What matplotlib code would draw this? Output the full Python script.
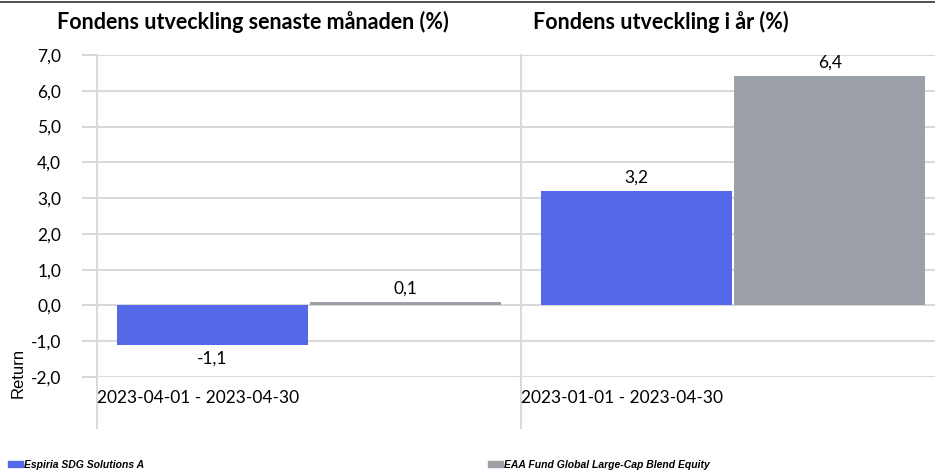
import numpy as np
import matplotlib.pyplot as plt
from matplotlib.transforms import blended_transform_factory

# Data
periods = ["2023-04-01 - 2023-04-30", "2023-01-01 - 2023-04-30"]
titles = ["Fondens utveckling senaste månaden (%)", "Fondens utveckling i år (%)"]
series = ["Espiria SDG Solutions A", "EAA Fund Global Large-Cap Blend Equity"]
fund = [-1.1, 3.2]
index = [0.1, 6.4]
yticks = [-2, -1, 0, 1, 2, 3, 4, 5, 6, 7]

BLUE = "#5469E8"
GRAY = "#9CA0A8"
GRID = "#D9D9D9"
FONT = ["Lato", "DejaVu Sans"]


def fmt(v):
    return f"{v:.1f}".replace(".", ",")


fig = plt.figure(figsize=(9.35, 4.72), dpi=100)
W, H = 935, 472
ax = fig.add_axes([97 / W, (H - 377) / H, (935 - 97) / W, 322 / H])

x = np.arange(len(periods))
w = 0.45
off = 0.228
b1 = ax.bar(x - off, fund, w, color=BLUE, zorder=3)
b2 = ax.bar(x + off, index, w, color=GRAY, zorder=3)

ax.set_xlim(-0.5, -0.5 + 838 / 424)
ax.set_ylim(-2, 7)
ax.set_yticks(yticks)
ax.set_yticklabels([fmt(v) for v in yticks], fontsize=12.5, family=FONT)
ax.tick_params(axis="y", length=10.8, width=1.5, color=GRID, pad=15)
ax.set_xticks([])
ax.yaxis.grid(True, color=GRID, linewidth=1.5, zorder=0)
for s in ax.spines.values():
    s.set_visible(False)

# category separators extending below the plot
for xb in [-0.5, 0.5]:
    ax.axvline(xb, ymin=-51 / 322, ymax=1, color=GRID, linewidth=1.5,
               clip_on=False, zorder=1)

# value labels
for bars, vals in [(b1, fund), (b2, index)]:
    for r, v in zip(bars, vals):
        cx = r.get_x() + r.get_width() / 2
        if v < 0:
            ax.annotate(fmt(v), (cx, v), xytext=(0, -4), textcoords="offset points",
                        ha="center", va="top", fontsize=12.5, family=FONT)
        else:
            ax.annotate(fmt(v), (cx, v), xytext=(0, 4), textcoords="offset points",
                        ha="center", va="bottom", fontsize=12.5, family=FONT)

# category labels
tr = blended_transform_factory(ax.transData, ax.transAxes)
for i, p in enumerate(periods):
    ax.text(i - 0.5, -0.065, p, transform=tr, ha="left", va="center",
            fontsize=12.5, family=FONT)

# y label
fig.text(18 / W, 1 - 398 / H, "Return", rotation=90, fontsize=12,
         family=["Liberation Sans", "DejaVu Sans"], ha="center", va="bottom")

# titles
fig.text(57 / W, 1 - 22 / H, titles[0], fontsize=15.5, fontweight="bold",
         family=FONT, va="center", ha="left")
fig.text(533 / W, 1 - 22 / H, titles[1], fontsize=15.5, fontweight="bold",
         family=FONT, va="center", ha="left")

# top rule
fig.add_artist(plt.Line2D([0, 1], [1 - 1.5 / H, 1 - 1.5 / H], color="#333333",
                          linewidth=1.2, transform=fig.transFigure))

# legend
leg_font = ["Liberation Sans Narrow", "Liberation Sans", "DejaVu Sans"]
for lx, col, name in [(8, BLUE, series[0]), (488, GRAY, series[1])]:
    fig.add_artist(plt.Rectangle((lx / W, 1 - 467 / H), 15 / W, 6 / H,
                                 color=col, transform=fig.transFigure))
    fig.text((lx + 16) / W, 1 - 465 / H, name, fontsize=7.5, fontweight="bold",
             fontstyle="italic", family=leg_font, va="center", ha="left")

fig.savefig("out.png", dpi=100)
